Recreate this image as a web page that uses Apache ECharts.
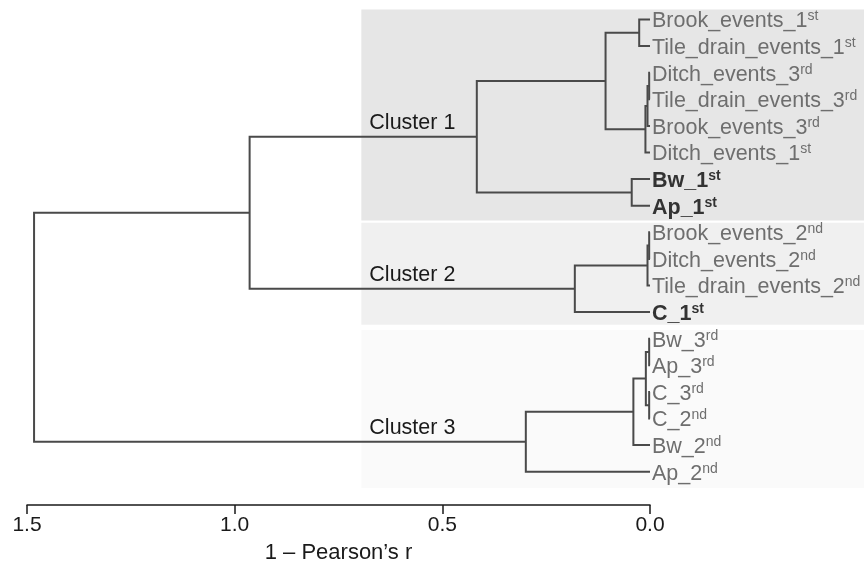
<!DOCTYPE html>
<html>
<head>
<meta charset="utf-8">
<script src="https://cdn.jsdelivr.net/npm/echarts@6/dist/echarts.min.js"></script>
<style>
  html, body { margin: 0; padding: 0; background: #fff; }
  #chart { width: 864px; height: 564px; }
</style>
</head>
<body>
<div id="chart"></div>
<script>
// Leaves, top to bottom: base name, ordinal suffix, soil sample flag (bold)
const leafNames = [
  'Brook_events_1', 'Tile_drain_events_1', 'Ditch_events_3', 'Tile_drain_events_3',
  'Brook_events_3', 'Ditch_events_1', 'Bw_1', 'Ap_1',
  'Brook_events_2', 'Ditch_events_2', 'Tile_drain_events_2', 'C_1',
  'Bw_3', 'Ap_3', 'C_3', 'C_2', 'Bw_2', 'Ap_2'
];
const leafSuffix = [
  'st', 'st', 'rd', 'rd', 'rd', 'st', 'st', 'st',
  'nd', 'nd', 'nd', 'st',
  'rd', 'rd', 'rd', 'nd', 'nd', 'nd'
];
const leafSoil = [
  false, false, false, false, false, false, true, true,
  false, false, false, true,
  false, false, false, false, false, false
];

// Agglomeration steps: ids < 18 are leaves, id 18 + k is the node from step k
const mergeLeft   = [2, 8, 12, 14, 18, 19, 20, 22, 0, 24, 6, 26, 23, 27, 29, 32, 33];
const mergeRight  = [3, 9, 13, 15, 4, 10, 21, 5, 1, 16, 7, 25, 11, 17, 28, 30, 31];
const mergeHeight = [0.002, 0.002, 0.002, 0.002, 0.006, 0.006, 0.010, 0.011, 0.026,
                     0.040, 0.044, 0.107, 0.181, 0.299, 0.417, 0.964, 1.483];

// Cluster annotations: label, the node that roots the cluster, its leaf span
const clusterNames = ['Cluster 1', 'Cluster 2', 'Cluster 3'];
const clusterNodes = [32, 30, 31];
const clusterFirstLeaf = [0, 8, 12];
const clusterLastLeaf = [7, 11, 17];
const clusterFill = ['#e6e6e6', '#f0f0f0', '#fafafa'];

// Axis ticks
const xMin = 0, xMax = 1.5, xStep = 0.5;
const xTitle = '1 \u2013 Pearson\u2019s r';

// Node positions: leaves at their row, internal nodes at the midpoint of children
const nLeaves = leafNames.length;
const nodeY = leafNames.map((_, i) => i);
const nodeH = leafNames.map(() => 0);
mergeHeight.forEach((h, k) => {
  nodeY.push((nodeY[mergeLeft[k]] + nodeY[mergeRight[k]]) / 2);
  nodeH.push(h);
});

// Cluster bands start at this height
const bandStart = 0.695;

const chart = echarts.init(document.getElementById('chart'), null, { renderer: 'canvas' });
const FONT = '"Liberation Sans", Arial, sans-serif';
const LINE = '#4a4a4a';

chart.setOption({
  animation: false,
  backgroundColor: '#ffffff',
  grid: { left: 27, right: 214, top: 6.2, bottom: 79, containLabel: false, outerBoundsMode: 'none' },
  xAxis: {
    type: 'value', inverse: true, min: xMin, max: xMax, interval: xStep,
    position: 'bottom', offset: 20,
    axisLine: { show: true, onZero: false, lineStyle: { color: '#1a1a1a', width: 1.5 } },
    axisTick: { show: true, length: 9, lineStyle: { color: '#1a1a1a', width: 1.5 } },
    splitLine: { show: false },
    axisLabel: { color: '#1a1a1a', fontSize: 21, fontFamily: FONT, margin: 10,
                 formatter: v => v.toFixed(1) },
    name: xTitle, nameLocation: 'middle', nameGap: 37,
    nameTextStyle: { color: '#1a1a1a', fontSize: 22, fontFamily: FONT }
  },
  yAxis: { type: 'value', inverse: true, min: -0.5, max: nLeaves - 0.5, show: false },
  series: [
    {
      // Shaded cluster bands
      type: 'custom', z: 1, silent: true,
      data: clusterNames.map((n, i) => [i]),
      renderItem: (params, api) => {
        const i = params.dataIndex;
        const x0 = api.coord([bandStart, 0])[0];
        const top = api.coord([0, clusterFirstLeaf[i] - (i === 0 ? 0.38 : (i === 1 ? 0.36 : 0.33))])[1];
        const bot = api.coord([0, clusterLastLeaf[i] + (i === 2 ? 0.61 : (i === 1 ? 0.48 : 0.56))])[1];
        return {
          type: 'rect',
          shape: { x: x0, y: top, width: api.getWidth() - x0, height: bot - top },
          style: { fill: clusterFill[i] }
        };
      }
    },
    {
      // Dendrogram links
      type: 'custom', z: 3, silent: true,
      data: mergeHeight.map((h, k) => [k]),
      renderItem: (params, api) => {
        const k = params.dataIndex;
        const a = mergeLeft[k], b = mergeRight[k], h = mergeHeight[k];
        const p1 = api.coord([nodeH[a], nodeY[a]]);
        const p2 = api.coord([h, nodeY[a]]);
        const p3 = api.coord([h, nodeY[b]]);
        const p4 = api.coord([nodeH[b], nodeY[b]]);
        return {
          type: 'polyline',
          shape: { points: [p1, p2, p3, p4] },
          style: { stroke: LINE, lineWidth: 2, fill: null }
        };
      }
    },
    {
      // Cluster labels above each cluster's stem
      type: 'custom', z: 4, silent: true,
      data: clusterNames.map((n, i) => [i]),
      renderItem: (params, api) => {
        const i = params.dataIndex;
        const node = clusterNodes[i];
        const p = api.coord([bandStart, nodeY[node]]);
        return {
          type: 'text',
          x: p[0] + 8, y: p[1] - 3,
          style: { text: clusterNames[i], fill: '#1a1a1a', fontSize: 21.5,
                   fontFamily: FONT, textAlign: 'left', textVerticalAlign: 'bottom' }
        };
      }
    },
    {
      // Leaf labels with ordinal superscripts
      type: 'custom', z: 5, silent: true,
      data: leafNames.map((n, i) => [i]),
      renderItem: (params, api) => {
        const i = params.dataIndex;
        const p = api.coord([0, i]);
        const soil = leafSoil[i];
        return {
          type: 'text',
          x: p[0] + 2, y: p[1] + 1,
          style: {
            text: '{b|' + leafNames[i] + '}{s|' + leafSuffix[i] + '}',
            textAlign: 'left', textVerticalAlign: 'middle',
            rich: {
              b: { fontSize: 21.5, fontFamily: FONT, fill: soil ? '#333333' : '#6e6e6e',
                   fontWeight: soil ? 'bold' : 'normal', verticalAlign: 'bottom', lineHeight: 24 },
              s: { fontSize: 14, fontFamily: FONT, fill: soil ? '#333333' : '#6e6e6e',
                   fontWeight: soil ? 'bold' : 'normal', verticalAlign: 'bottom',
                   lineHeight: 24, padding: [0, 0, 9, 0] }
            }
          }
        };
      }
    }
  ]
});
</script>
</body>
</html>
